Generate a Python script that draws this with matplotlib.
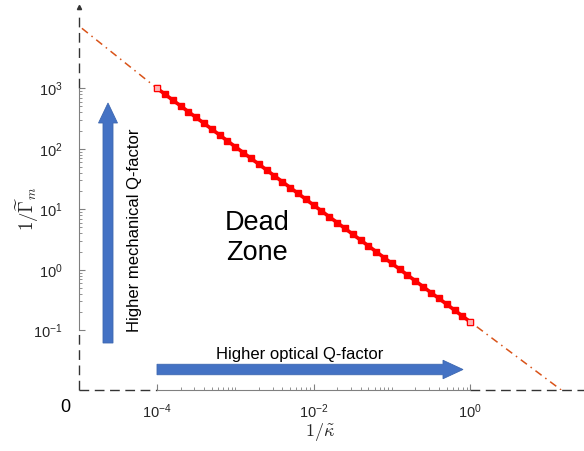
import matplotlib
matplotlib.use("Agg")
import matplotlib.pyplot as plt
import matplotlib.patches as patches
from matplotlib.transforms import IdentityTransform
from matplotlib.ticker import FixedLocator, FixedFormatter, NullFormatter

plt.rcParams['font.family'] = ['Liberation Sans', 'DejaVu Sans']

# 1/kappa (x) and 1/Gamma_m (y), 10 points per decade
inv_kappa = [1.00e-4, 1.26e-4, 1.58e-4, 2.00e-4, 2.51e-4, 3.16e-4, 3.98e-4, 5.01e-4, 6.31e-4, 7.94e-4,
             1.00e-3, 1.26e-3, 1.58e-3, 2.00e-3, 2.51e-3, 3.16e-3, 3.98e-3, 5.01e-3, 6.31e-3, 7.94e-3,
             1.00e-2, 1.26e-2, 1.58e-2, 2.00e-2, 2.51e-2, 3.16e-2, 3.98e-2, 5.01e-2, 6.31e-2, 7.94e-2,
             1.00e-1, 1.26e-1, 1.58e-1, 2.00e-1, 2.51e-1, 3.16e-1, 3.98e-1, 5.01e-1, 6.31e-1, 7.94e-1,
             1.00]
inv_gamma = [1000, 801, 641, 513, 411, 329, 264, 211, 169, 135,
             108, 86.8, 69.5, 55.7, 44.6, 35.7, 28.6, 22.9, 18.3, 14.7,
             11.7, 9.41, 7.53, 6.03, 4.83, 3.87, 3.10, 2.48, 1.99, 1.59,
             1.27, 1.02, 0.817, 0.654, 0.524, 0.419, 0.336, 0.269, 0.215, 0.172,
             0.138]

# extrapolated boundary (dash-dot)
guide_x = [1.1e-5, 1.0e-4, 1.0, 15.0]
guide_y = [9.8e3, 1.0e3, 0.138, 1.0e-2]

xticks = [1e-4, 1e-2, 1e0]
xticklabels = [r'$\mathregular{10^{-4}}$', r'$\mathregular{10^{-2}}$', r'$\mathregular{10^{0}}$']
yticks = [1e-1, 1e0, 1e1, 1e2, 1e3]
yticklabels = [r'$\mathregular{10^{-1}}$', r'$\mathregular{10^{0}}$', r'$\mathregular{10^{1}}$',
               r'$\mathregular{10^{2}}$', r'$\mathregular{10^{3}}$']

W, H = 584, 451
fig = plt.figure(figsize=(W / 100, H / 100), dpi=100)
ax = fig.add_axes([79 / W, 61 / H, 505 / W, 385 / H])
ax.set_xscale('log')
ax.set_yscale('log')
ax.set_xlim(1.01e-5, 28.4)
ax.set_ylim(1.03e-2, 2.38e4)

ax.plot(guide_x, guide_y, color='#D95319', lw=1.1, ls=(0, (5, 3, 1, 3)), zorder=2)
ax.plot(inv_kappa, inv_gamma, color='red', lw=2.6, marker='s', ms=4.6,
        mfc='red', mec='red', zorder=3)
ax.plot([inv_kappa[0], inv_kappa[-1]], [inv_gamma[0], inv_gamma[-1]], ls='none',
        marker='s', ms=4.4, mfc='#ffb3b3', mec='red', mew=0.8, zorder=4)

# spines only over the data range, dashed extension elsewhere
for s in ['top', 'right']:
    ax.spines[s].set_visible(False)
ax.spines['bottom'].set_bounds(1e-4, 1)
ax.spines['left'].set_bounds(1e-1, 1e3)
ax.spines['bottom'].set_color('#808080')
ax.spines['left'].set_color('#808080')

dash = dict(color='#333333', lw=1.0, ls=(0, (7, 4)), clip_on=False)
ax.plot([0, 0], [1.03e-2, 1e-1], transform=ax.get_yaxis_transform(), **dash)
ax.plot([0, 0], [1e3, 1.8e4], transform=ax.get_yaxis_transform(), **dash)
ax.plot([1.01e-5, 1e-4], [0, 0], transform=ax.get_xaxis_transform(), **dash)
ax.plot([1.0, 28.4], [0, 0], transform=ax.get_xaxis_transform(), **dash)
ax.plot([0], [2.2e4], transform=ax.get_yaxis_transform(), marker='^', ms=3,
        color='#333333', clip_on=False)

xminor = [m * 10.0 ** e for e in range(-4, 0) for m in range(2, 10)] + [1e-3, 1e-1]
yminor = [m * 10.0 ** e for e in range(-1, 3) for m in range(2, 10)]
ax.xaxis.set_major_locator(FixedLocator(xticks))
ax.xaxis.set_major_formatter(FixedFormatter(xticklabels))
ax.xaxis.set_minor_locator(FixedLocator(xminor))
ax.xaxis.set_minor_formatter(NullFormatter())
ax.yaxis.set_major_locator(FixedLocator(yticks))
ax.yaxis.set_major_formatter(FixedFormatter(yticklabels))
ax.yaxis.set_minor_locator(FixedLocator(yminor))
ax.yaxis.set_minor_formatter(NullFormatter())
ax.tick_params(which='both', direction='in', color='#808080', labelcolor='#262626')
ax.tick_params(which='major', length=4, labelsize=10.5)
ax.tick_params(which='minor', length=2)
ax.tick_params(axis='x', pad=9)
ax.tick_params(axis='y', pad=12)

def px(x, y):
    return x / W, 1 - y / H

fig.text(*px(65, 408), '0', fontsize=13, ha='center', va='center')
fig.text(*px(320, 432), r'$1/\tilde{\kappa}$', math_fontfamily='cm', fontsize=13,
         ha='center', va='center', color='#262626')
fig.text(*px(27, 209), r'$1/\widetilde{\Gamma}_m$', math_fontfamily='cm', fontsize=13.5,
         ha='center', va='center', rotation=90, color='#262626')

fig.text(*px(257, 238), 'Dead\nZone', fontsize=19.5, ha='center', va='center',
         linespacing=1.2)
fig.text(*px(134, 230), 'Higher mechanical Q-factor', fontsize=12, rotation=90,
         ha='center', va='center')
fig.text(*px(300, 355), 'Higher optical Q-factor', fontsize=12,
         ha='center', va='center')

# block arrows in pixel coordinates
blue = '#4472C4'
up = patches.FancyArrow(108, H - 343, 0, 240, width=10, head_width=19, head_length=20,
                        length_includes_head=True, fc=blue, ec='#3D67B0', lw=0.6,
                        transform=IdentityTransform())
right = patches.FancyArrow(157, H - 369.5, 306, 0, width=10.5, head_width=18.5, head_length=20,
                           length_includes_head=True, fc=blue, ec='#3D67B0', lw=0.6,
                           transform=IdentityTransform())
fig.add_artist(up)
fig.add_artist(right)

fig.savefig('out.png', dpi=100)
